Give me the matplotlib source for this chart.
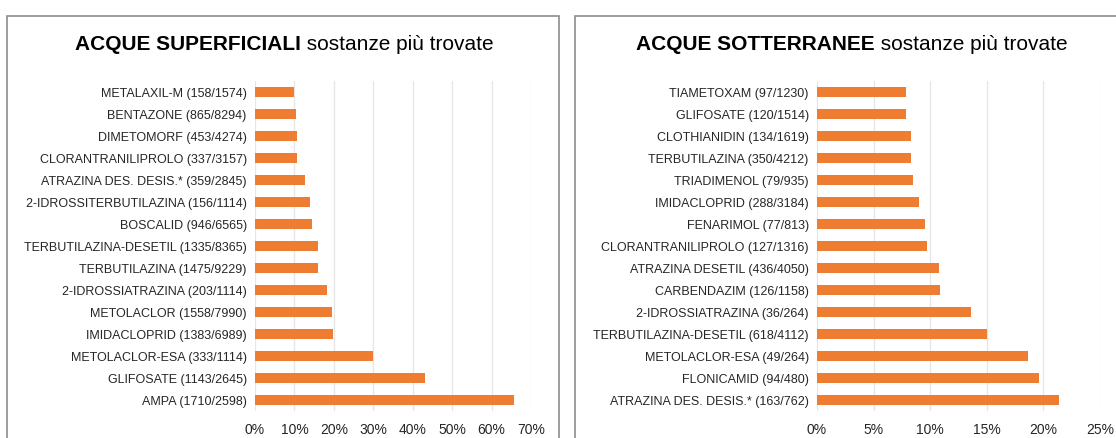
import matplotlib
matplotlib.use("Agg")
import matplotlib.pyplot as plt
from matplotlib.patches import Rectangle
from matplotlib.ticker import FuncFormatter
from matplotlib import font_manager

# --- data (top to bottom as drawn) ---
sup_labels = [
    "METALAXIL-M (158/1574)", "BENTAZONE (865/8294)", "DIMETOMORF (453/4274)",
    "CLORANTRANILIPROLO (337/3157)", "ATRAZINA DES. DESIS.* (359/2845)",
    "2-IDROSSITERBUTILAZINA (156/1114)", "BOSCALID (946/6565)",
    "TERBUTILAZINA-DESETIL (1335/8365)", "TERBUTILAZINA (1475/9229)",
    "2-IDROSSIATRAZINA (203/1114)", "METOLACLOR (1558/7990)",
    "IMIDACLOPRID (1383/6989)", "METOLACLOR-ESA (333/1114)",
    "GLIFOSATE (1143/2645)", "AMPA (1710/2598)",
]
sup_values = [0.100, 0.104, 0.106, 0.107, 0.126, 0.140, 0.144, 0.160, 0.160,
              0.182, 0.195, 0.198, 0.299, 0.432, 0.658]

sot_labels = [
    "TIAMETOXAM (97/1230)", "GLIFOSATE (120/1514)", "CLOTHIANIDIN (134/1619)",
    "TERBUTILAZINA (350/4212)", "TRIADIMENOL (79/935)", "IMIDACLOPRID (288/3184)",
    "FENARIMOL (77/813)", "CLORANTRANILIPROLO (127/1316)",
    "ATRAZINA DESETIL (436/4050)", "CARBENDAZIM (126/1158)",
    "2-IDROSSIATRAZINA (36/264)", "TERBUTILAZINA-DESETIL (618/4112)",
    "METOLACLOR-ESA (49/264)", "FLONICAMID (94/480)",
    "ATRAZINA DES. DESIS.* (163/762)",
]
sot_values = [0.079, 0.079, 0.083, 0.083, 0.085, 0.090, 0.095, 0.097, 0.108,
              0.109, 0.136, 0.150, 0.186, 0.196, 0.214]

sup_ticks = [0, 0.1, 0.2, 0.3, 0.4, 0.5, 0.6, 0.7]
sot_ticks = [0, 0.05, 0.10, 0.15, 0.20, 0.25]

# font: narrow if available
names = {f.name for f in font_manager.fontManager.ttflist}
FONT = "Liberation Sans Narrow" if "Liberation Sans Narrow" in names else "Liberation Sans"
plt.rcParams["font.family"] = [FONT, "DejaVu Sans"]

BAR = "#EF7D31"
TXT = "#262626"

fig = plt.figure(figsize=(11.16, 4.38), dpi=100)

# chart frames
W, H = 1116, 438
for x0, x1 in [(7, 559), (575, 1125)]:
    fig.add_artist(Rectangle((x0 / W, -0.05), (x1 - x0) / W, 1 - 16 / H + 0.05,
                             transform=fig.transFigure, fill=False,
                             edgecolor="#8c8c8c", linewidth=1.2))


def panel(rect, labels, values, ticks, xmax, bold, rest, title_cx):
    ax = fig.add_axes(rect)
    y = list(range(len(labels)))
    ax.barh(y, values, height=0.48, color=BAR, zorder=3)
    ax.set_yticks(y)
    ax.set_yticklabels(labels, fontsize=9.0, color=TXT)
    ax.set_ylim(len(labels) - 0.5, -0.5)
    ax.set_xlim(0, xmax)
    ax.set_xticks(ticks)
    ax.xaxis.set_major_formatter(FuncFormatter(lambda v, p: f"{v * 100:.0f}%"))
    ax.tick_params(axis="x", labelsize=10, colors=TXT, length=0, pad=9)
    ax.tick_params(axis="y", length=0, pad=6)
    ax.grid(axis="x", color="#e6e6e6", linewidth=0.9, zorder=0)
    for s in ax.spines.values():
        s.set_visible(False)

    # title: bold part + regular part, centered
    r = fig.canvas.get_renderer()
    t1 = fig.text(0, 1 - 45 / H, bold, fontsize=15, fontweight="bold",
                  va="center", ha="left", color="black")
    t2 = fig.text(0, 1 - 45 / H, rest, fontsize=15, va="center", ha="left",
                  color="black")
    w1 = t1.get_window_extent(r).width / W
    w2 = t2.get_window_extent(r).width / W
    start = title_cx / W - (w1 + w2) / 2
    t1.set_x(start)
    t2.set_x(start + w1)
    return ax


panel([255 / W, 1 - 411 / H, 276 / W, 330 / H], sup_labels, sup_values,
      sup_ticks, 0.7, "ACQUE SUPERFICIALI", " sostanze più trovate", 284)
panel([817 / W, 1 - 411 / H, 283 / W, 330 / H], sot_labels, sot_values,
      sot_ticks, 0.25, "ACQUE SOTTERRANEE", " sostanze più trovate", 852)

fig.savefig("out.png", dpi=100)
